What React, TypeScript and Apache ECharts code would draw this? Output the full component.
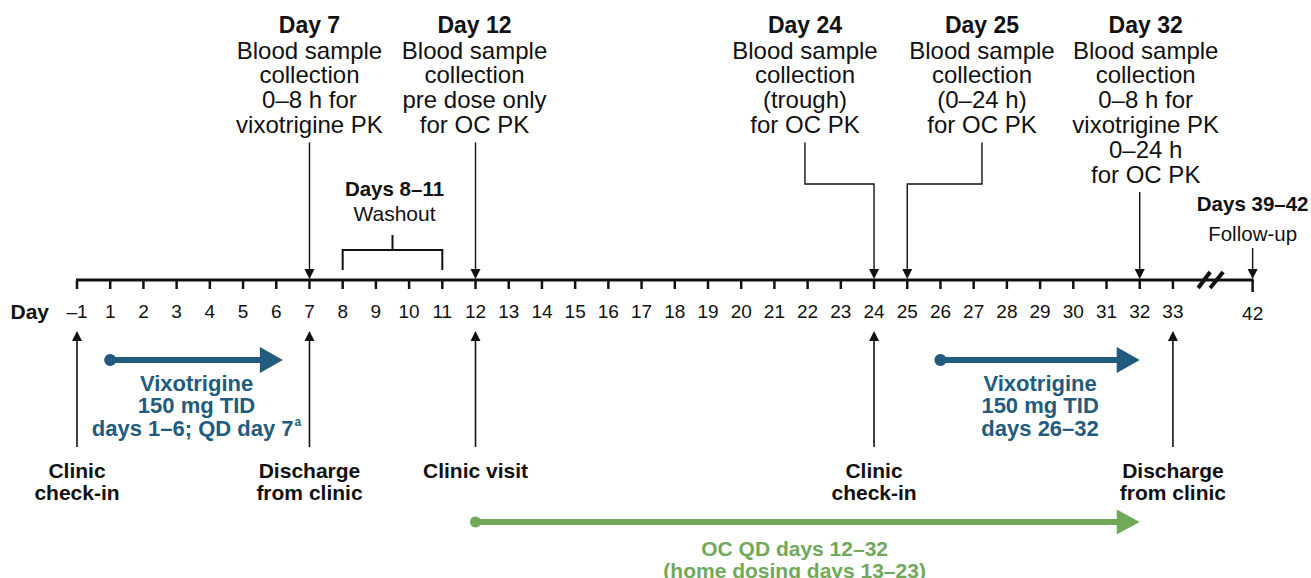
import React, { useEffect, useRef } from 'react';
import * as echarts from 'echarts';

// ---------------- DATA ----------------
const tickDays = [-1, 1, 2, 3, 4, 5, 6, 7, 8, 9, 10, 11, 12, 13, 14, 15, 16, 17, 18, 19, 20, 21, 22, 23, 24, 25, 26, 27, 28, 29, 30, 31, 32, 33, 42];
const tickLabels = ['–1', '1', '2', '3', '4', '5', '6', '7', '8', '9', '10', '11', '12', '13', '14', '15', '16', '17', '18', '19', '20', '21', '22', '23', '24', '25', '26', '27', '28', '29', '30', '31', '32', '33', '42'];
// timeline slot of each tick (no day 0; axis break between 33 and 42)
const tickSlots = [0, 1, 2, 3, 4, 5, 6, 7, 8, 9, 10, 11, 12, 13, 14, 15, 16, 17, 18, 19, 20, 21, 22, 23, 24, 25, 26, 27, 28, 29, 30, 31, 32, 33, 35.4];

const sampleDays = [7, 12, 24, 25, 32];
const sampleTitles = ['Day 7', 'Day 12', 'Day 24', 'Day 25', 'Day 32'];
const sampleTexts = [
  ['Blood sample', 'collection', '0–8 h for', 'vixotrigine PK'],
  ['Blood sample', 'collection', 'pre dose only', 'for OC PK'],
  ['Blood sample', 'collection', '(trough)', 'for OC PK'],
  ['Blood sample', 'collection', '(0–24 h)', 'for OC PK'],
  ['Blood sample', 'collection', '0–8 h for', 'vixotrigine PK', '0–24 h', 'for OC PK'],
];

const washoutDays = [8, 11];
const washoutTitle = 'Days 8–11';
const washoutText = 'Washout';

const followUpDay = 42;
const followUpTitle = 'Days 39–42';
const followUpText = 'Follow-up';

const visitDays = [-1, 7, 12, 24, 33];
const visitLabels = [
  ['Clinic', 'check-in'],
  ['Discharge', 'from clinic'],
  ['Clinic visit'],
  ['Clinic', 'check-in'],
  ['Discharge', 'from clinic'],
];

const vixoStart = [1, 26];
const vixoEnd = [6.2, 32];
const vixoTexts = [
  ['Vixotrigine', '150 mg TID', 'days 1–6; QD day 7'],
  ['Vixotrigine', '150 mg TID', 'days 26–32'],
];
const vixoNotes = ['a', ''];

const ocStart = [12];
const ocEnd = [32];
const ocTexts = [['OC QD days 12–32', '(home dosing days 13–23)']];

// ---------------- LAYOUT / STYLE ----------------
const W = 1311;
const H = 578;
const X0 = 77; // pixel of first slot
const STEP = 33.21; // pixels per slot
const AXIS_Y = 280;
const FONT = '"Liberation Sans", Arial, Helvetica, sans-serif';
const BLUE = '#215B7E';
const GREEN = '#70A95A';
const BLACK = '#111';

const labelShift: Record<number, number> = { 24: -2.08, 25: 2.25, 32: 0.18, 12: -0.03 };

function slotOf(day: number): number {
  const i = tickDays.indexOf(day);
  return i >= 0 ? tickSlots[i] : day;
}

function txt(x: number, y: number, text: string, size: number, bold: boolean, fill = BLACK, align = 'center') {
  return {
    type: 'text',
    x,
    y,
    style: {
      text,
      fill,
      fontSize: size,
      fontFamily: FONT,
      fontWeight: bold ? 'bold' : 'normal',
      align,
      verticalAlign: 'middle',
    },
  };
}

function downHead(x: number, tipY: number) {
  return {
    type: 'polygon',
    shape: { points: [[x - 5, tipY - 10], [x + 5, tipY - 10], [x, tipY]] },
    style: { fill: BLACK },
  };
}

function upHead(x: number, tipY: number) {
  return {
    type: 'polygon',
    shape: { points: [[x - 5, tipY + 10], [x + 5, tipY + 10], [x, tipY]] },
    style: { fill: BLACK },
  };
}

function buildOption() {
  const series: any[] = [];

  // axis line + break + "Day"
  series.push({
    type: 'custom',
    coordinateSystem: 'cartesian2d',
    clip: false,
    data: [[tickSlots[0], tickSlots[tickSlots.length - 1]]],
    renderItem: (params: any, api: any) => {
      const a = api.coord([api.value(0), AXIS_Y]);
      const b = api.coord([api.value(1), AXIS_Y]);
      const br = api.coord([34.15, AXIS_Y]);
      return {
        type: 'group',
        children: [
          { type: 'line', shape: { x1: a[0] - 1, y1: a[1], x2: b[0] + 1, y2: b[1] }, style: { stroke: BLACK, lineWidth: 3 } },
          { type: 'line', shape: { x1: br[0] - 13, y1: AXIS_Y + 8, x2: br[0] - 1, y2: AXIS_Y - 8 }, style: { stroke: BLACK, lineWidth: 4 } },
          { type: 'line', shape: { x1: br[0] - 1, y1: AXIS_Y + 8, x2: br[0] + 12, y2: AXIS_Y - 8 }, style: { stroke: BLACK, lineWidth: 4 } },
          txt(a[0] - 28, AXIS_Y + 31, 'Day', 21, true, BLACK, 'right'),
        ],
      };
    },
  });

  // ticks + labels
  series.push({
    type: 'custom',
    coordinateSystem: 'cartesian2d',
    clip: false,
    data: tickSlots.map((s) => [s, AXIS_Y]),
    renderItem: (params: any, api: any) => {
      const i = params.dataIndex;
      const p = api.coord([api.value(0), api.value(1)]);
      const last = tickDays[i] === 42;
      return {
        type: 'group',
        children: [
          { type: 'line', shape: { x1: p[0], y1: p[1], x2: p[0], y2: p[1] + (last ? 12 : 9) }, style: { stroke: BLACK, lineWidth: 2.5 } },
          txt(p[0], p[1] + (last ? 33 : 31), tickLabels[i], 19, false),
        ],
      };
    },
  });

  // sample collection annotations (top)
  series.push({
    type: 'custom',
    coordinateSystem: 'cartesian2d',
    clip: false,
    data: sampleDays.map((d) => [slotOf(d), AXIS_Y]),
    renderItem: (params: any, api: any) => {
      const i = params.dataIndex;
      const day = sampleDays[i];
      const p = api.coord([api.value(0), api.value(1)]);
      const lx = api.coord([api.value(0) + (labelShift[day] || 0), AXIS_Y])[0];
      const children: any[] = [];
      children.push(txt(lx, 25, sampleTitles[i], 23, true));
      sampleTexts[i].forEach((t, k) => children.push(txt(lx, 50 + 24.8 * k, t, 24, false)));
      const topY = 50 + 24.8 * (sampleTexts[i].length - 1) + 18;
      const tip = AXIS_Y - 1;
      if (Math.abs(lx - p[0]) > 12) {
        children.push({
          type: 'polyline',
          shape: { points: [[lx, topY], [lx, 184], [p[0], 184], [p[0], tip - 9]] },
          style: { stroke: BLACK, lineWidth: 1.4, fill: null },
        });
      } else {
        children.push({ type: 'line', shape: { x1: p[0], y1: topY, x2: p[0], y2: tip - 9 }, style: { stroke: BLACK, lineWidth: 1.4 } });
      }
      children.push(downHead(p[0], tip));
      return { type: 'group', children };
    },
  });

  // washout brace
  series.push({
    type: 'custom',
    coordinateSystem: 'cartesian2d',
    clip: false,
    data: [[washoutDays[0], washoutDays[1]]],
    renderItem: (params: any, api: any) => {
      const a = api.coord([api.value(0), 250]);
      const b = api.coord([api.value(1), 250]);
      const mx = (a[0] + b[0]) / 2;
      return {
        type: 'group',
        children: [
          { type: 'polyline', shape: { points: [[a[0], 270], [a[0], 250], [b[0], 250], [b[0], 270]] }, style: { stroke: BLACK, lineWidth: 2, fill: null } },
          { type: 'line', shape: { x1: mx, y1: 235, x2: mx, y2: 250 }, style: { stroke: BLACK, lineWidth: 2 } },
          txt(mx + 2, 188, washoutTitle, 20.5, true),
          txt(mx + 2, 213, washoutText, 21, false),
        ],
      };
    },
  });

  // follow-up
  series.push({
    type: 'custom',
    coordinateSystem: 'cartesian2d',
    clip: false,
    data: [[slotOf(followUpDay), AXIS_Y]],
    renderItem: (params: any, api: any) => {
      const p = api.coord([api.value(0), api.value(1)]);
      return {
        type: 'group',
        children: [
          txt(p[0], 203, followUpTitle, 20.5, true),
          txt(p[0], 233, followUpText, 20.5, false),
          { type: 'line', shape: { x1: p[0], y1: 248, x2: p[0], y2: AXIS_Y - 9 }, style: { stroke: BLACK, lineWidth: 1.4 } },
          downHead(p[0], AXIS_Y - 1),
        ],
      };
    },
  });

  // visits (bottom)
  series.push({
    type: 'custom',
    coordinateSystem: 'cartesian2d',
    clip: false,
    data: visitDays.map((d) => [slotOf(d), 447]),
    renderItem: (params: any, api: any) => {
      const i = params.dataIndex;
      const p = api.coord([api.value(0), api.value(1)]);
      const children: any[] = [
        { type: 'line', shape: { x1: p[0], y1: p[1], x2: p[0], y2: 340 }, style: { stroke: BLACK, lineWidth: 1.6 } },
        upHead(p[0], 331),
      ];
      visitLabels[i].forEach((t, k) => children.push(txt(p[0], 470 + 22.5 * k, t, 21, true)));
      return { type: 'group', children };
    },
  });

  // vixotrigine dosing arrows
  series.push({
    type: 'custom',
    coordinateSystem: 'cartesian2d',
    clip: false,
    data: vixoStart.map((s, i) => [s, vixoEnd[i]]),
    renderItem: (params: any, api: any) => {
      const i = params.dataIndex;
      const y = 360;
      const a = api.coord([api.value(0), y]);
      const b = api.coord([api.value(1), y]);
      const mx = (a[0] + b[0]) / 2;
      const children: any[] = [
        { type: 'line', shape: { x1: a[0], y1: y, x2: b[0] - 20, y2: y }, style: { stroke: BLUE, lineWidth: 6 } },
        { type: 'circle', shape: { cx: a[0], cy: y, r: 6 }, style: { fill: BLUE } },
        { type: 'polygon', shape: { points: [[b[0] - 23, y - 13], [b[0] - 23, y + 13], [b[0], y]] }, style: { fill: BLUE } },
      ];
      vixoTexts[i].forEach((t, k) => {
        const last = k === vixoTexts[i].length - 1;
        if (last && vixoNotes[i]) {
          children.push({
            type: 'text',
            x: mx,
            y: 383 + 22.7 * k,
            style: {
              text: '{n|' + t + '}{s|' + vixoNotes[i] + '}',
              align: 'center',
              verticalAlign: 'middle',
              rich: {
                n: { fontSize: 22, fontWeight: 'bold', fontFamily: FONT, fill: BLUE },
                s: { fontSize: 12, fontWeight: 'bold', fontFamily: FONT, fill: BLUE, padding: [0, 0, 12, 1] },
              },
            },
          });
        } else {
          children.push(txt(mx, 383 + 22.7 * k, t, 22, true, BLUE));
        }
      });
      return { type: 'group', children };
    },
  });

  // OC dosing arrow
  series.push({
    type: 'custom',
    coordinateSystem: 'cartesian2d',
    clip: false,
    data: ocStart.map((s, i) => [s, ocEnd[i]]),
    renderItem: (params: any, api: any) => {
      const i = params.dataIndex;
      const y = 522;
      const a = api.coord([api.value(0), y]);
      const b = api.coord([api.value(1), y]);
      const mx = (a[0] + b[0]) / 2 - 13;
      const children: any[] = [
        { type: 'line', shape: { x1: a[0], y1: y, x2: b[0] - 20, y2: y }, style: { stroke: GREEN, lineWidth: 6 } },
        { type: 'circle', shape: { cx: a[0], cy: y, r: 5.5 }, style: { fill: GREEN } },
        { type: 'polygon', shape: { points: [[b[0] - 23, y - 12.5], [b[0] - 23, y + 12.5], [b[0], y]] }, style: { fill: GREEN } },
      ];
      ocTexts[i].forEach((t, k) => children.push(txt(mx, 548 + 22.5 * k, t, 21, true, GREEN)));
      return { type: 'group', children };
    },
  });

  return {
    animation: false,
    backgroundColor: '#fff',
    grid: { left: 0, right: 0, top: 0, bottom: 0 },
    xAxis: { type: 'value', min: -X0 / STEP, max: (W - X0) / STEP, show: false },
    yAxis: { type: 'value', min: 0, max: H, inverse: true, show: false },
    series,
  };
}

export default function App() {
  const ref = useRef<HTMLDivElement>(null);
  useEffect(() => {
    if (!ref.current) return;
    const chart = echarts.init(ref.current, undefined, { renderer: 'svg' });
    chart.setOption(buildOption() as any);
    return () => chart.dispose();
  }, []);
  return <div ref={ref} style={{ position: 'absolute', left: 0, top: 0, width: W, height: H }} />;
}
